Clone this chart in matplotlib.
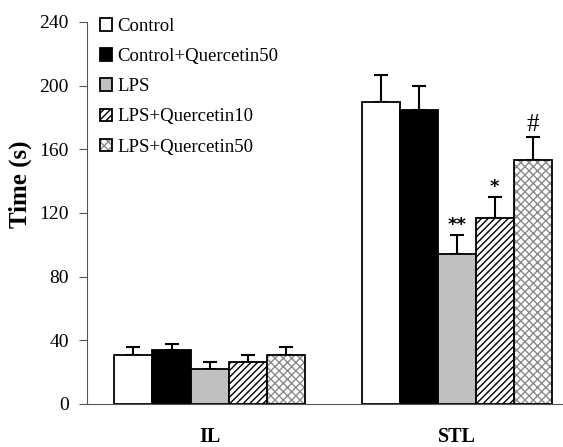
import numpy as np
import matplotlib.pyplot as plt
from matplotlib.legend_handler import HandlerTuple

plt.rcParams['font.family'] = ['Liberation Serif', 'DejaVu Serif']

groups = ['IL', 'STL']
labels = ['Control', 'Control+Quercetin50', 'LPS', 'LPS+Quercetin10', 'LPS+Quercetin50']
means = {
    'Control': [31, 190],
    'Control+Quercetin50': [34, 184.5],
    'LPS': [22, 94.5],
    'LPS+Quercetin10': [26.6, 117],
    'LPS+Quercetin50': [31, 153.5],
}
errs = {
    'Control': [5, 17],
    'Control+Quercetin50': [4, 15],
    'LPS': [4.5, 11.5],
    'LPS+Quercetin10': [4, 13],
    'LPS+Quercetin50': [4.5, 14],
}
signif = {'LPS': ['', '**'], 'LPS+Quercetin10': ['', '*'], 'LPS+Quercetin50': ['', '#']}

fig = plt.figure(figsize=(5.63, 4.47), dpi=100)
ax = fig.add_axes([0.1545, 0.0962, 0.8455, 0.8546])

x = np.arange(len(groups))
w = 0.154
handles = []
for i, lab in enumerate(labels):
    pos = x + (i - 2) * w
    m = np.array(means[lab])
    e = np.array(errs[lab])
    ax.errorbar(pos, m, yerr=[np.zeros_like(e), e], fmt='none', ecolor='black',
                elinewidth=1.5, capsize=5, capthick=1.5, zorder=1)
    if lab == 'Control':
        h = ax.bar(pos, m, w, color='white', edgecolor='black', linewidth=1.3, zorder=2)
    elif lab == 'Control+Quercetin50':
        h = ax.bar(pos, m, w, color='black', edgecolor='black', linewidth=1.3, zorder=2)
    elif lab == 'LPS':
        h = ax.bar(pos, m, w, color='#c0c0c0', edgecolor='black', linewidth=1.3, zorder=2)
    elif lab == 'LPS+Quercetin10':
        h = ax.bar(pos, m, w, color='white', edgecolor='black', hatch='/////', linewidth=1.3, zorder=2)
    else:
        h1 = ax.bar(pos, m, w, color='white', edgecolor='#8a8a8a', hatch='xxxx', linewidth=0, zorder=2)
        h2 = ax.bar(pos, m, w, color='none', edgecolor='black', linewidth=1.3, zorder=3)
        h = (h1.patches[0], h2.patches[0])
    handles.append(h)
    if lab in signif:
        for j, s in enumerate(signif[lab]):
            if s:
                if s == '#':
                    ax.text(pos[j], m[j] + e[j] + 1, s, ha='center', va='bottom', fontsize=18)
                else:
                    ax.text(pos[j], m[j] + e[j] + 0.5, s, ha='center', va='bottom', fontsize=13,
                            fontweight='bold', family='DejaVu Sans')

ax.set_xlim(-0.496, 1.43)
ax.set_ylim(0, 240)
ax.set_yticks(np.arange(0, 241, 40))
ax.tick_params(axis='y', labelsize=14, direction='out', length=6, pad=7, color='#555555')
ax.set_xticks([])
for j, g in enumerate(groups):
    ax.text(x[j], -24, g, ha='center', va='baseline', fontsize=14.5, fontweight='bold')
ax.spines['top'].set_visible(False)
ax.spines['right'].set_visible(False)
ax.spines['left'].set_color('#555555')
ax.spines['bottom'].set_color('#555555')
ax.set_ylabel('Time (s)', fontsize=18, fontweight='bold', labelpad=10)
ax.yaxis.set_label_coords(-0.115, 0.576)

ax.legend(handles, labels, loc='upper left', bbox_to_anchor=(0.012, 1.03), frameon=False,
          fontsize=13.5, handlelength=0.65, handleheight=0.65, handletextpad=0.25,
          labelspacing=0.7, borderaxespad=0,
          handler_map={tuple: HandlerTuple()})

fig.savefig('out.png', dpi=100)
